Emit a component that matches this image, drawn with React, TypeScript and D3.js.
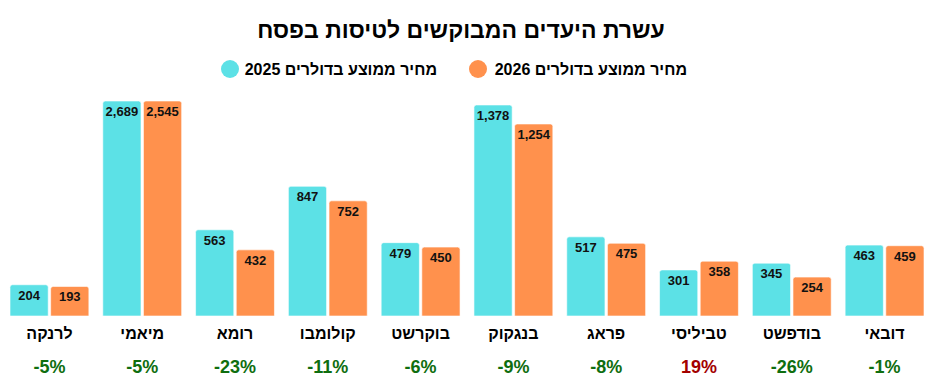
import { useEffect, useRef } from 'react';
import * as d3 from 'd3';

// categories in on-screen order, left to right
const cities = ['לרנקה', 'מיאמי', 'רומא', 'קולומבו', 'בוקרשט', 'בנגקוק', 'פראג', 'טביליסי', 'בודפשט', 'דובאי'];
const price2025 = [204, 2689, 563, 847, 479, 1378, 517, 301, 345, 463];
const price2026 = [193, 2545, 432, 752, 450, 1254, 475, 358, 254, 459];
const changes = [-5, -5, -23, -11, -6, -9, -8, 19, -26, -1];

const seriesKeys = ['2025', '2026'];
const seriesNames = ['מחיר ממוצע בדולרים 2025', 'מחיר ממוצע בדולרים 2026'];

const COLORS: Record<string, string> = { '2025': '#5ce1e6', '2026': '#ff914d' };
const FONT = '"Liberation Sans", Arial, sans-serif';

const WIDTH = 940;
const HEIGHT = 387;

export default function App() {
  const svgRef = useRef<SVGSVGElement>(null);

  useEffect(() => {
    if (!svgRef.current) return;
    const svg = d3.select(svgRef.current);
    svg.selectAll('*').remove();

    const rows = cities.map((c, i) => ({
      city: c,
      values: [
        { key: '2025', value: price2025[i] },
        { key: '2026', value: price2026[i] },
      ],
      change: changes[i],
    }));

    // Scales
    const x0 = d3.scaleBand().domain(cities).range([10, 924]).paddingInner(0.15).paddingOuter(0);
    const x1 = d3.scaleBand().domain(seriesKeys).range([0, x0.bandwidth()]).paddingInner(0.06);
    // the tall Miami bars are cut at the top of the plot
    const y = d3.scaleLinear().domain([0, 1404]).range([316, 101]).clamp(true);

    // Title
    svg.append('text')
      .attr('x', 461)
      .attr('y', 38)
      .attr('text-anchor', 'middle')
      .attr('font-family', FONT)
      .attr('font-weight', 'bold')
      .attr('font-size', 23)
      .attr('fill', '#000')
      .text('עשרת היעדים המבוקשים לטיסות בפסח');

    // Legend
    const legendItems = [
      { key: '2026', name: seriesNames[1], cx: 478, textRight: 687 },
      { key: '2025', name: seriesNames[0], cx: 230, textRight: 437 },
    ];
    const lg = svg.append('g');
    legendItems.forEach((d) => {
      lg.append('circle')
        .attr('cx', d.cx)
        .attr('cy', 69)
        .attr('r', 9)
        .attr('fill', COLORS[d.key]);
      lg.append('text')
        .attr('x', d.textRight)
        .attr('y', 75)
        .attr('text-anchor', 'start')
        .attr('direction', 'rtl')
        .attr('font-family', FONT)
        .attr('font-weight', 'bold')
        .attr('font-size', 16)
        .attr('fill', '#000')
        .text(d.name);
    });

    const groups = svg.append('g')
      .selectAll('g.group')
      .data(rows)
      .join('g')
      .attr('class', 'group')
      .attr('transform', (d) => `translate(${x0(d.city)},0)`);

    // Bars (rounded top corners)
    groups.selectAll('path.bar')
      .data((d) => d.values)
      .join('path')
      .attr('class', 'bar')
      .attr('d', (d) => {
        const bx = x1(d.key) || 0;
        const bw = x1.bandwidth();
        const top = y(d.value);
        const bottom = y(0);
        const r = 2.5;
        return `M${bx},${bottom}V${top + r}Q${bx},${top} ${bx + r},${top}H${bx + bw - r}Q${bx + bw},${top} ${bx + bw},${top + r}V${bottom}Z`;
      })
      .attr('fill', (d) => COLORS[d.key])
      .attr('stroke', '#ffffff')
      .attr('stroke-opacity', 0.6)
      .attr('stroke-width', 1);

    // Value labels
    groups.selectAll('text.val')
      .data((d) => d.values)
      .join('text')
      .attr('class', 'val')
      .attr('x', (d) => (x1(d.key) || 0) + x1.bandwidth() / 2)
      .attr('y', (d) => y(d.value) + 15)
      .attr('text-anchor', 'middle')
      .attr('font-family', FONT)
      .attr('font-weight', 'bold')
      .attr('font-size', 13)
      .attr('fill', '#111')
      .text((d) => d3.format(',')(d.value));

    // Category labels
    groups.append('text')
      .attr('x', x0.bandwidth() / 2)
      .attr('y', 339)
      .attr('text-anchor', 'middle')
      .attr('font-family', FONT)
      .attr('font-weight', 'bold')
      .attr('font-size', 16)
      .attr('fill', '#000')
      .text((d) => d.city);

    // Change labels
    groups.append('text')
      .attr('x', x0.bandwidth() / 2)
      .attr('y', 373)
      .attr('text-anchor', 'middle')
      .attr('font-family', FONT)
      .attr('font-weight', 'bold')
      .attr('font-size', 18)
      .attr('fill', (d) => (d.change > 0 ? '#a30000' : '#0f6e0f'))
      .text((d) => `${d.change}%`);
  }, []);

  return (
    <svg
      ref={svgRef}
      width={WIDTH}
      height={HEIGHT}
      style={{ position: 'absolute', left: 0, top: 0, background: '#fff' }}
    />
  );
}
